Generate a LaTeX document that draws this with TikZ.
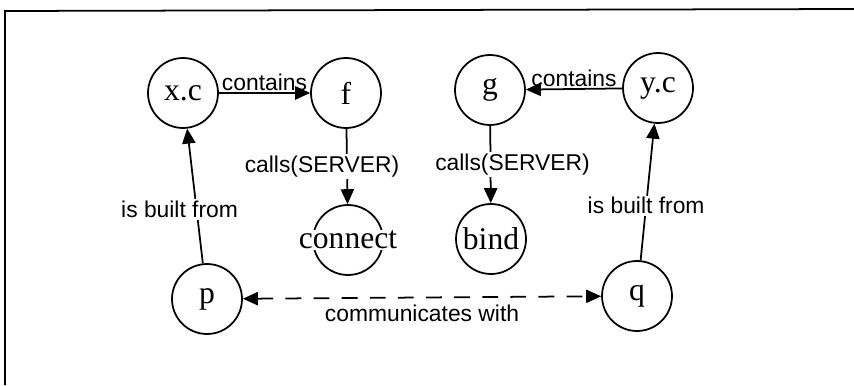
\documentclass[tikz,border=0pt]{standalone}
\usepackage{fontspec}
\setmainfont{Liberation Serif}
\newfontfamily\labelfont{Liberation Sans}
\usetikzlibrary{arrows.meta}

\begin{document}
\begin{tikzpicture}[x=0.02cm,y=-0.02cm,
  obj/.style={draw,circle,line width=1pt,minimum size=1.4cm,inner sep=0pt,font=\fontsize{18}{20}\selectfont},
  rel/.style={line width=1pt,-{Triangle[length=8.5pt,width=7.5pt]}},
  lab/.style={font=\labelfont\fontsize{13}{15}\selectfont,inner sep=1pt}]
  \useasboundingbox (0,0) rectangle (854,385);
  \draw[line width=1pt] (5,385) -- (5,11) -- (854,9);
  \node[obj](xc) at (183,93) {x.c};
  \node[obj](f) at (346,93) {f};
  \node[obj](g) at (490,90) {g};
  \node[obj](yc) at (658,88) {y.c};
  \node[obj,label={[fill=white,inner sep=0.5pt,font=\fontsize{18}{20}\selectfont]center:connect}](connect) at (348,240) {};
  \node[obj](bind) at (491,239) {bind};
  \node[obj](p) at (207,299) {p};
  \node[obj](q) at (637,296) {q};
  \draw[rel] (xc) -- (f) node[pos=0.5,above,lab]{contains};
  \draw[rel] (yc) -- (g) node[pos=0.5,above,lab]{contains};
  \draw[rel] (f) -- (connect) node[pos=0.5,lab,fill=white,xshift=-0.5cm]{calls(SERVER)};
  \draw[rel] (g) -- (bind) node[pos=0.5,lab,fill=white,xshift=0.44cm]{calls(SERVER)};
  \draw[rel] (p) -- (xc) node[pos=0.4,lab,fill=white,xshift=-0.34cm]{is built from};
  \draw[rel] (q) -- (yc) node[pos=0.4,lab,fill=white]{is built from};
  \draw[rel,{Triangle[length=8.5pt,width=7.5pt]}-{Triangle[length=8.5pt,width=7.5pt]},dash pattern=on 9pt off 7pt] (p) -- (q) node[pos=0.5,below,lab,yshift=-0.1cm]{communicates with};
\end{tikzpicture}
\end{document}
